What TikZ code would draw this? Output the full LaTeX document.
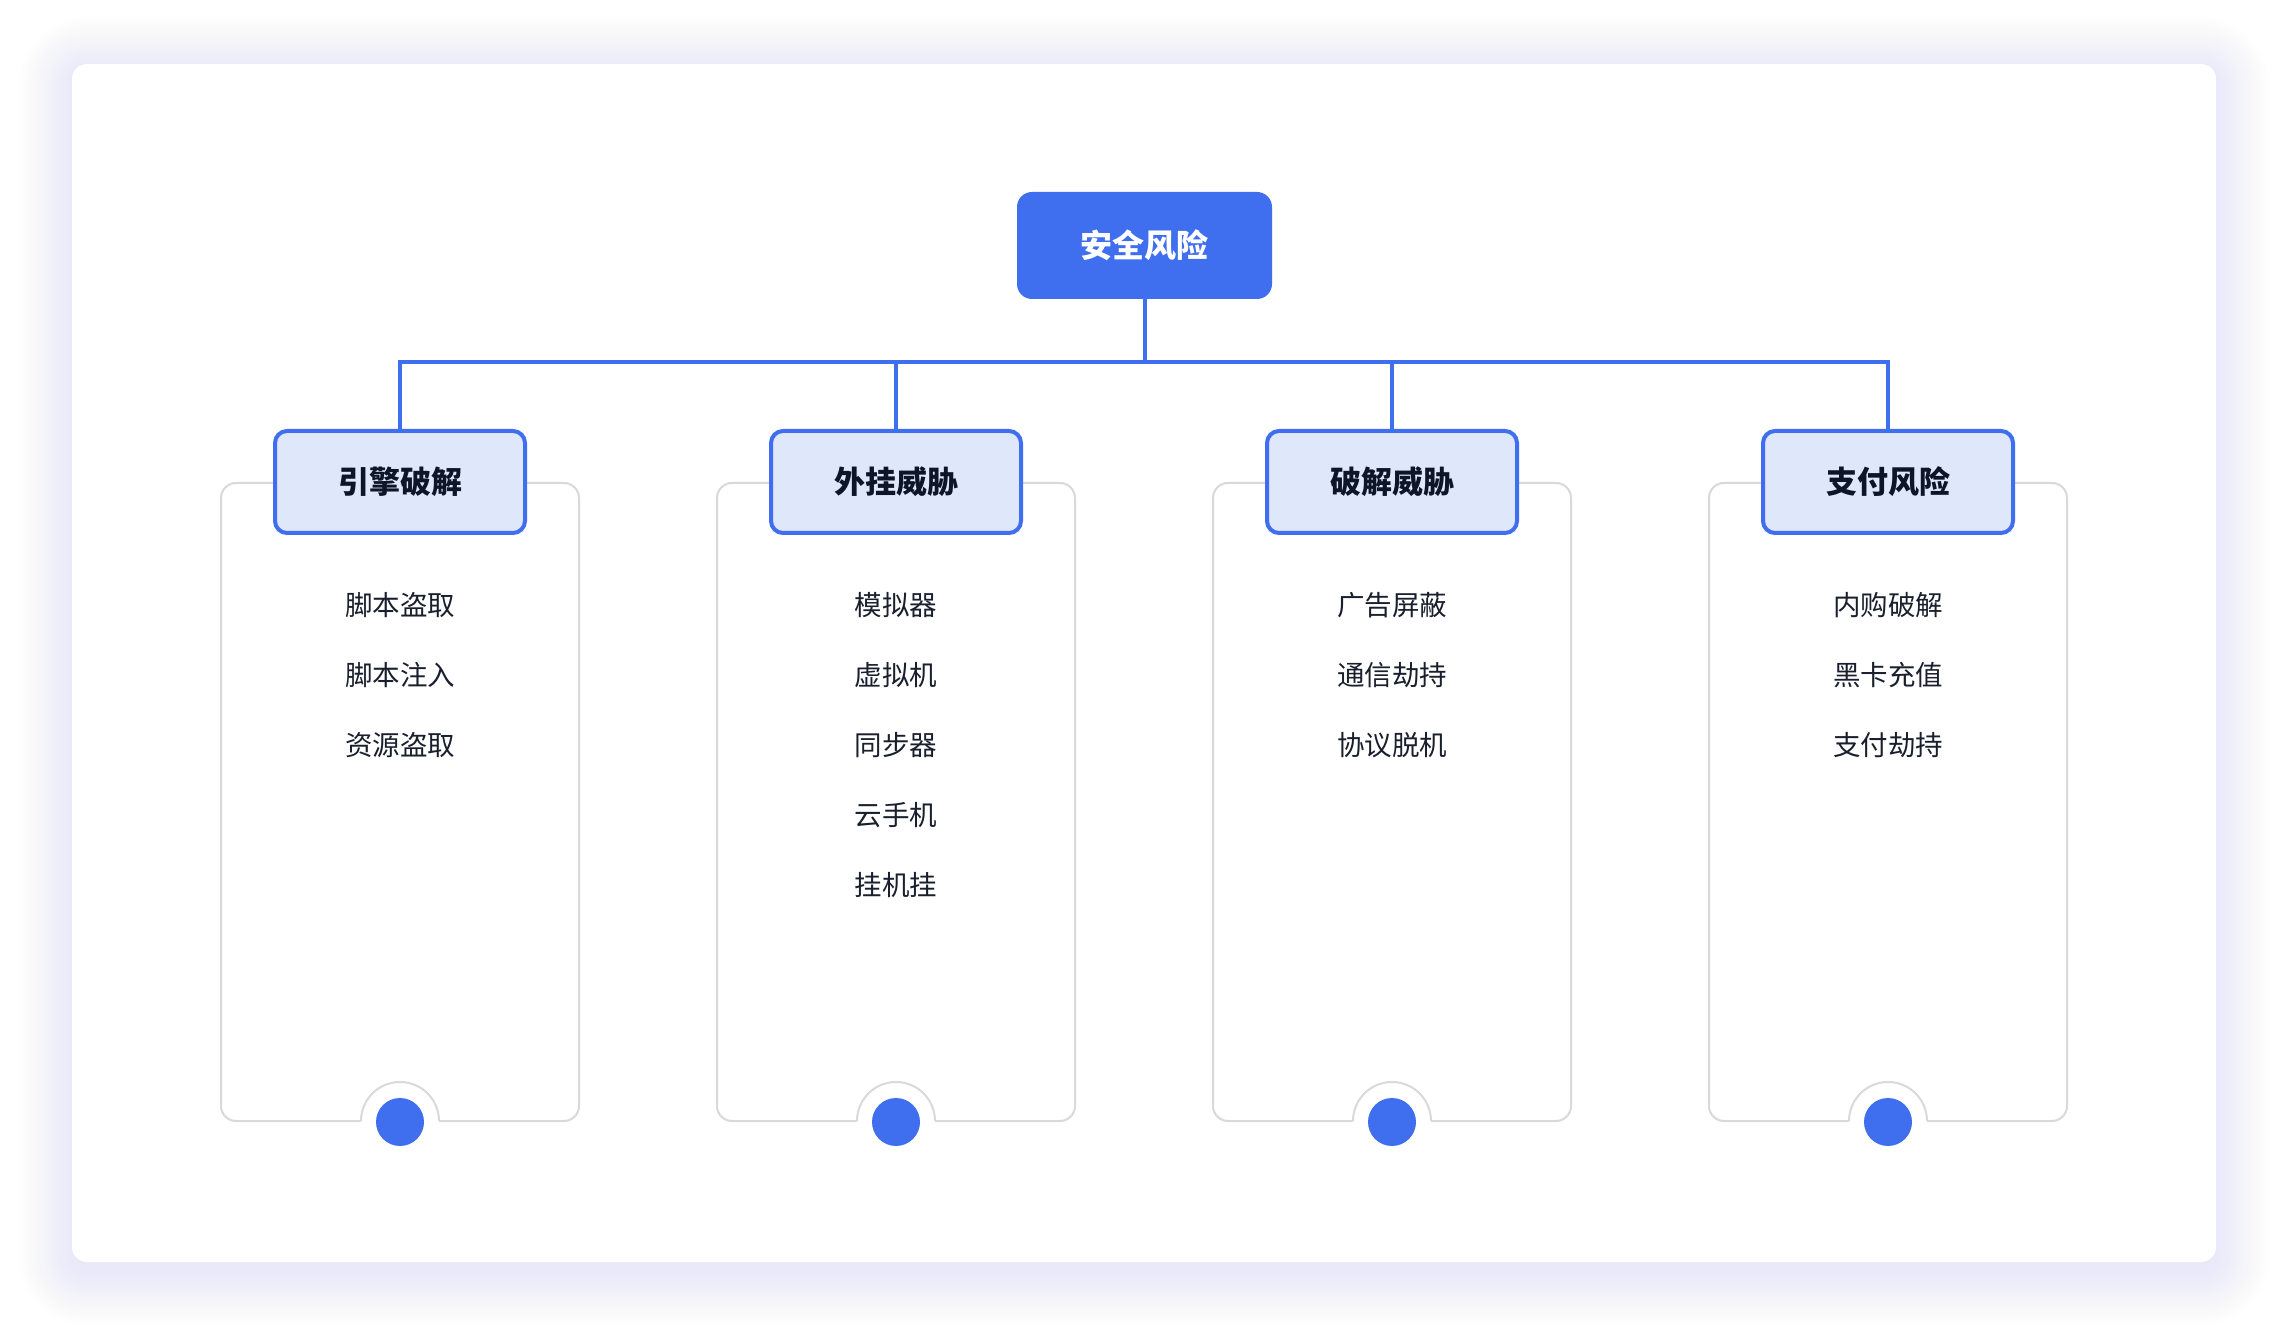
\documentclass[tikz,border=0pt]{standalone}
\usepackage{fontspec}
\setmainfont{Noto Sans CJK SC}
\definecolor{mainblue}{HTML}{3F6FEF}
\definecolor{lightfill}{HTML}{DFE7FB}
\definecolor{panelgray}{HTML}{D9D9D9}
\definecolor{itemtext}{HTML}{1A1F2E}
\definecolor{headtext}{HTML}{0D1526}
\definecolor{shadowc}{RGB}{170,192,250}
\tikzset{
  rootbox/.style={draw=none, fill=mainblue, rounded corners=7.5pt, minimum width=127.5pt, minimum height=53.5pt, text=white, font=\fontsize{16}{19}\selectfont\bfseries, inner sep=0pt},
  headbox/.style={draw=mainblue, line width=2pt, fill=lightfill, rounded corners=6pt, minimum width=125pt, minimum height=51pt, text=headtext, font=\fontsize{15.5}{18}\selectfont\bfseries, inner sep=0pt},
  itemnode/.style={text=itemtext, font=\fontsize{13.75}{16}\selectfont, inner sep=0pt},
  conn/.style={draw=mainblue, line width=2pt},
  panelline/.style={draw=panelgray, line width=1pt},
  dotnode/.style={circle, fill=mainblue, minimum size=24pt, inner sep=0pt, draw=none},
}
\begin{document}
\begin{tikzpicture}[x=0.5pt,y=-0.5pt]
\useasboundingbox (0,0) rectangle (2288,1342);
\fill[white] (0,0) rectangle (2288,1342);
% soft shadow of the card
\foreach \i in {1,...,22}{
  \fill[shadowc, opacity=0.013, rounded corners={7.5pt+1.2pt*\i}]
    (72-2.4*\i,70-2.4*\i) rectangle (2216+2.4*\i,1272+2.4*\i);
}
\fill[white, rounded corners=7.5pt] (72,64) rectangle (2216,1262);

% root
\node[rootbox] (root) at (1144.5,245.5) {安全风险};

% columns
\foreach \k/\x/\title in {1/400/引擎破解, 2/896/外挂威胁, 3/1392/破解威胁, 4/1888/支付风险}{
  % panel
  \draw[panelline, rounded corners=7.5pt] (\x-39,1121) -- (\x-179,1121) -- (\x-179,483) -- (\x+179,483) -- (\x+179,1121) -- (\x+39,1121);
  \draw[panelline] (\x+39,1121) arc[start angle=0, end angle=-180, radius=39];
  \node[dotnode] (dot\k) at (\x,1122) {};
  \node[headbox] (h\k) at (\x,482) {\title};
  \draw[conn] (root.south) -- ++(0,63) -| (h\k.north);
}

% items
\foreach \t [count=\j] in {脚本盗取, 脚本注入, 资源盗取}{
  \node[itemnode] (a\j) at (400,535+70*\j) {\t};
}
\foreach \t [count=\j] in {模拟器, 虚拟机, 同步器, 云手机, 挂机挂}{
  \node[itemnode] (b\j) at (896,535+70*\j) {\t};
}
\foreach \t [count=\j] in {广告屏蔽, 通信劫持, 协议脱机}{
  \node[itemnode] (c\j) at (1392,535+70*\j) {\t};
}
\foreach \t [count=\j] in {内购破解, 黑卡充值, 支付劫持}{
  \node[itemnode] (d\j) at (1888,535+70*\j) {\t};
}
\end{tikzpicture}
\end{document}
